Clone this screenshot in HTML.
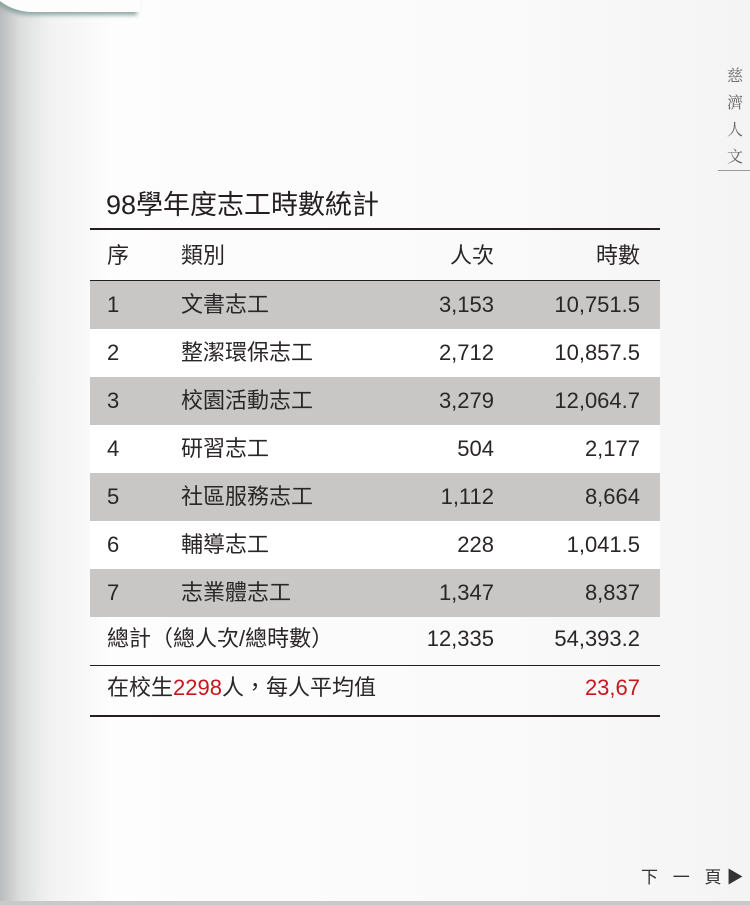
<!DOCTYPE html>
<html><head><meta charset="utf-8">
<style>
html,body{margin:0;padding:0;}
body{width:750px;height:905px;position:relative;overflow:hidden;background:#f7f7f7;font-family:"Liberation Sans","Noto Sans CJK TC",sans-serif;color:#231f20;}
#page{position:absolute;left:0;top:0;width:750px;height:905px;background:linear-gradient(to right,#b9bcbc 0px,#dcdede 20px,#f2f2f2 50px,#fdfdfd 110px,#fafafa 500px,#f4f4f4 750px);}
#curl{position:absolute;left:-20px;top:-40px;width:160px;height:52px;border-radius:0 0 0 60px;background:#fdfdfd;box-shadow:-3px 3px 4px 0 #8ea5a2;}
.abs{position:absolute;white-space:nowrap;}
.row{position:absolute;left:90px;width:570px;height:48px;}
.cell{position:absolute;top:0;line-height:48px;font-size:22px;color:#2a2627;}
.side{position:absolute;left:727px;font-size:16px;color:#666;font-family:"Noto Serif CJK SC",serif;}
</style></head>
<body>
<div id="page"></div>
<div id="curl"></div>
<div class="side" style="top:63px">慈</div>
<div class="side" style="top:90px">濟</div>
<div class="side" style="top:117px">人</div>
<div class="side" style="top:144px">文</div>
<div class="abs" style="left:718px;top:170px;width:32px;height:1px;background:#999"></div>
<div class="abs" style="left:106px;top:183px;font-size:27px;">98學年度志工時數統計</div>
<div class="abs" style="left:90px;top:228px;width:570px;height:2px;background:#231f20"></div>
<div class="row" style="top:232px">
 <div class="cell" style="left:17px">序</div>
 <div class="cell" style="left:91px">類別</div>
 <div class="cell" style="right:166px">人次</div>
 <div class="cell" style="right:20px">時數</div>
</div>
<div class="abs" style="left:90px;top:280px;width:570px;height:1px;background:#231f20"></div>
<div id="rows"></div>
<div class="row" style="top:615px">
 <div class="cell" style="left:17px">總計（總人次/總時數）</div>
 <div class="cell" style="right:166px">12,335</div>
 <div class="cell" style="right:20px">54,393.2</div>
</div>
<div class="abs" style="left:90px;top:665px;width:570px;height:1px;background:#231f20"></div>
<div class="row" style="top:664px;height:49px">
 <div class="cell" style="left:17px">在校生<span style="color:#c8161d">2298</span>人，每人平均值</div>
 <div class="cell" style="right:20px;color:#c8161d">23,67</div>
</div>
<div class="abs" style="left:90px;top:715px;width:570px;height:2px;background:#231f20"></div>
<div class="abs" style="left:641px;top:863px;font-size:17px;color:#333;letter-spacing:5px">下 一 頁▶</div>
<div class="abs" style="left:0;top:901px;width:750px;height:4px;background:#c9c9c9"></div>
<script>
const categories=["文書志工","整潔環保志工","校園活動志工","研習志工","社區服務志工","輔導志工","志業體志工"];
const counts=["3,153","2,712","3,279","504","1,112","228","1,347"];
const hours=["10,751.5","10,857.5","12,064.7","2,177","8,664","1,041.5","8,837"];
const host=document.getElementById('rows');
categories.forEach((c,i)=>{
 const r=document.createElement('div');
 r.className='row';
 r.style.top=(281+i*48)+'px';
 r.style.background=i%2===0?'#c9c7c6':'#ffffff';
 
 
 const mk=(txt,style,name)=>{
  const d=document.createElement('div');
  d.className='cell';
  d.style.cssText=style;
  d.textContent=txt;
  
  
  r.appendChild(d);
 };
 mk(String(i+1),'left:17px','row-index');
 mk(c,'left:91px','row-category');
 mk(counts[i],'right:166px','row-count');
 mk(hours[i],'right:20px','row-hours');
 host.appendChild(r);
});
</script>
</body></html>
